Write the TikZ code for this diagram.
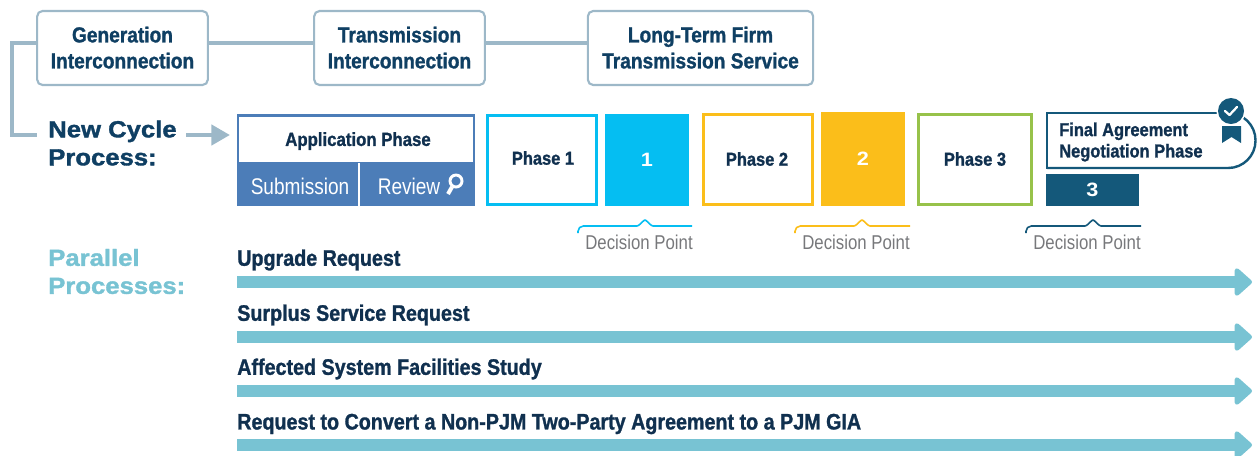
\documentclass[tikz,border=0pt]{standalone}
\usepackage{fontspec}
\usetikzlibrary{arrows.meta,calc}
\setmainfont{Liberation Sans}
\newfontfamily\cond{Liberation Sans}[FakeStretch=0.84]
\newfontfamily\condb{Liberation Sans Bold}[FakeStretch=0.88,FakeBold=1.2]
\newfontfamily\wide{Liberation Sans Bold}[FakeStretch=1.10,FakeBold=1.5]
\newfontfamily\numb{Liberation Sans Bold}[FakeStretch=1.12]
\newcommand{\upline}[1]{\raisebox{0.75pt}{#1}}
\definecolor{navy}{HTML}{0F3F63}
\definecolor{ink}{HTML}{10304F}
\definecolor{frame}{HTML}{9DB8C8}
\definecolor{appblue}{HTML}{4C7DB8}
\definecolor{cyanb}{HTML}{05BEF2}
\definecolor{gold}{HTML}{FBBE1A}
\definecolor{leaf}{HTML}{97C24A}
\definecolor{deep}{HTML}{14587A}
\definecolor{teal}{HTML}{78C3D3}
\definecolor{greyt}{HTML}{77787B}
\tikzset{
 x=0.75pt,y=-0.75pt,
 topbox/.style={draw=frame,line width=1.6pt,rounded corners=4pt,fill=white,align=center,inner sep=0pt,
   text=navy,font=\condb\fontsize{16.3}{19.5}\selectfont},
 phase/.style={draw=#1,line width=2.2pt,fill=white,inner sep=0pt},
 phasetext/.style={inner sep=0pt,text=ink,font=\condb\fontsize{14}{17}\selectfont},
 decbox/.style={fill=#1,inner sep=0pt,text=white,font=\numb\fontsize{14.5}{17}\selectfont},
 linker/.style={draw=frame,line width=3.4pt},
 heading/.style={anchor=west,inner sep=0pt,align=left,font=\wide\fontsize{17.5}{21}\selectfont},
 decision/.style={anchor=east,inner sep=0pt,text=greyt,font=\cond\fontsize{15}{17}\selectfont},
 brace/.style={line width=1.2pt,line join=round,rounded corners=0.8pt},
 subtext/.style={inner sep=0pt,text=white,font=\cond\fontsize{17}{18}\selectfont},
 barlabel/.style={anchor=west,inner sep=0pt,text=ink,font=\condb\fontsize{16.8}{18}\selectfont},
 bar/.style={draw=teal,line width=9pt,-{Triangle[length=14pt,width=24pt,round]}},
}
\begin{document}
\begin{tikzpicture}
\useasboundingbox (0,0) rectangle (1257,455);
\clip (0,0) rectangle (1257,455);
% top boxes
\coordinate (corner) at (12,43);
\coordinate (elbow) at (12,135);
\coordinate (elbowend) at (37,135);
\coordinate (arrowstart) at (186,135);
\node[topbox,minimum width=128pt,minimum height=55.5pt] (gen) at (122.5,48) {\upline{Generation}\\\upline{Interconnection}};
\node[topbox,minimum width=128pt,minimum height=55.5pt] (trans) at (399.5,48) {\upline{Transmission}\\\upline{Interconnection}};
\node[topbox,minimum width=169pt,minimum height=55.5pt] (ltf) at (700.5,48) {\upline{Long-Term Firm}\\\upline{Transmission Service}};
\draw[linker] (gen.east|-corner) -- (trans.west|-corner);
\draw[linker] (trans.east|-corner) -- (ltf.west|-corner);
\draw[linker,line join=miter] (gen.west|-corner) -- (corner) -- (elbow) -- (elbowend);
% headings
\node[heading,text=navy] (newcycle) at (48,143) {New Cycle\\Process:};
\node[heading,text=teal] (parallel) at (48,271.5) {Parallel\\Processes:};
\coordinate (apptip) at (230,135);
\draw[draw=frame,line width=3.4pt,-{Triangle[length=14pt,width=15pt]}] (arrowstart) -- (apptip);
% application
\node[fill=appblue,minimum width=178.5pt,minimum height=69pt,inner sep=0pt] (appbox) at (356,160) {};
\node[fill=white,minimum width=175pt,minimum height=34pt,inner sep=0pt] (apptitle) at (356,139.5) {};
\node[phasetext,font=\condb\fontsize{14.3}{17}\selectfont] (apptext) at (358,141) {Application Phase};
\node[subtext] (submission) at (300,186) {Submission};
\node[subtext] (review) at (409,186) {Review};
\coordinate (divtop) at (359,163);
\coordinate (divbot) at (359,206);
\draw[white,line width=1.5pt] (divtop) -- (divbot);
\draw[white,line width=2.2pt] (456,181) circle (6);
\draw[white,line width=3pt] (452,187) -- (448,194);
% phases
\node[phase=cyanb,minimum width=82pt,minimum height=67pt] (p1) at (542,160) {};
\node[phasetext] (p1t) at (543,158) {Phase 1};
\node[decbox=cyanb,minimum width=63pt,minimum height=69pt] (d1) at (647,160) {1};
\node[phase=gold,minimum width=82pt,minimum height=68pt] (p2) at (758,159.5) {};
\node[phasetext] (p2t) at (757,159) {Phase 2};
\node[decbox=gold,minimum width=63pt,minimum height=70.5pt] (d2) at (863,159) {2};
\node[phase=leaf,minimum width=85pt,minimum height=68pt] (p3) at (975,159.5) {};
\node[phasetext] (p3t) at (975,159) {Phase 3};
% final
\draw[draw=deep,line width=1.8pt,fill=white,rounded corners=20.5pt] (1220,113) -- (1255.5,113) -- (1255.5,168) -- (1047,168);
\draw[draw=deep,line width=1.8pt] (1220,113) -- (1047,113) -- (1047,168) -- (1075,168);
\node[anchor=west,inner sep=0pt,align=left,text=ink,font=\condb\fontsize{14}{16}\selectfont] (final) at (1059,142) {Final Agreement\\Negotiation Phase};
\node[decbox=deep,minimum width=70pt,minimum height=24pt] (d3) at (1092.5,190) {3};
% badge
\fill[white] (1231,111) circle (14.5);
\fill[deep] (1231,111) circle (13);
\fill[deep] (1222,126) -- (1241,126) -- (1241,143) -- (1231.5,137) -- (1222,143) -- cycle;
\draw[white,line width=1.7pt,line cap=round,line join=round] (1225,111) -- (1229.5,115) -- (1237,107);
% brackets
\foreach \l/\p/\r/\c in {578/645/692/cyanb,795/862/910/gold,1026/1093/1141/deep}{
 \draw[brace,draw=\c,rounded corners=4pt] (\l,233) -- (\l,226) -- (\p-11,226);
 \draw[brace,draw=\c] (\l+6,226) -- (\p-7,226) -- (\p,219.5) -- (\p+7,226) -- (\r,226);
}
\node[decision] (dp1) at (693,242) {Decision Point};
\node[decision] (dp2) at (910,242) {Decision Point};
\node[decision] (dp3) at (1141,242) {Decision Point};
% parallel bars
\node[barlabel] (u) at (237,260) {Upgrade Request};
\node[barlabel] (s) at (237,315) {Surplus Service Request};
\node[barlabel] (a) at (237,369) {Affected System Facilities Study};
\node[barlabel] (r) at (237,424) {Request to Convert a Non-PJM Two-Party Agreement to a PJM GIA};
\foreach \n/\y in {1/282,2/337,3/391,4/445}{
 \coordinate (bs\n) at (237,\y);
 \coordinate (be\n) at (1252,\y);
 \draw[bar] (bs\n) -- (be\n);
}
\end{tikzpicture}
\end{document}
